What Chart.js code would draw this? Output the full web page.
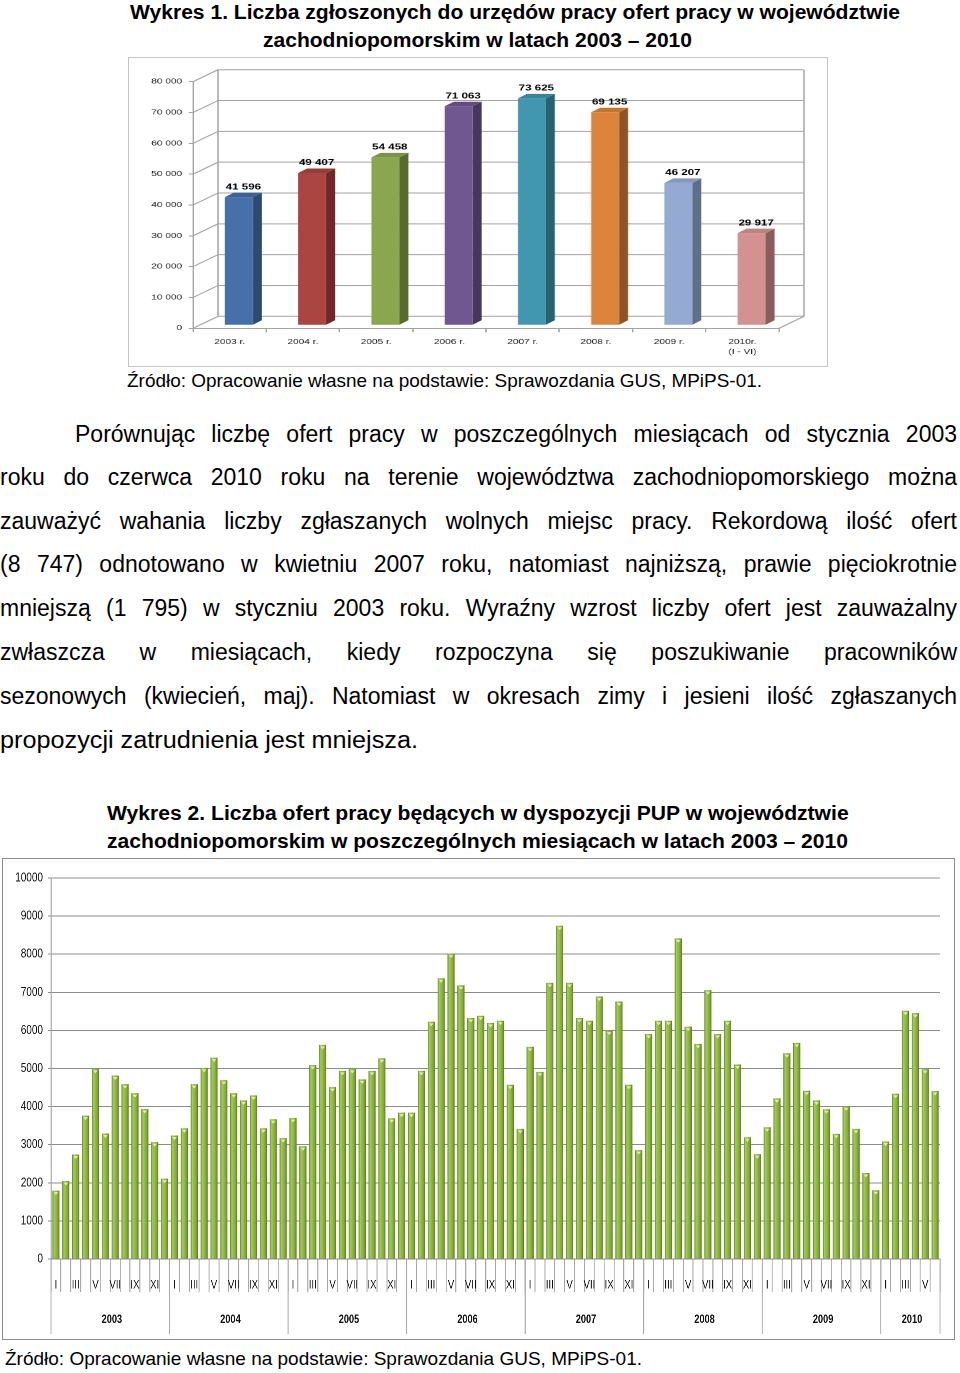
<!DOCTYPE html>
<html><head><meta charset="utf-8">
<script src="https://cdn.jsdelivr.net/npm/chart.js@4/dist/chart.umd.min.js"></script>
<style>
html,body{margin:0;padding:0;background:#fff;}
body{width:960px;height:1373px;position:relative;overflow:hidden;font-family:"Liberation Sans",Arial,sans-serif;color:#000;}
.t{position:absolute;white-space:nowrap;transform-origin:0 0;}
#box1{position:absolute;left:128px;top:57px;width:700px;height:310px;border:1px solid #c4c4c4;box-sizing:border-box;background:#fff;overflow:hidden;}
#w1{position:absolute;left:0;top:0;width:483px;height:308px;transform-origin:0 0;transform:scaleX(1.4451);}
#box2{position:absolute;left:2px;top:858px;width:953px;height:482px;border:1px solid #8c8c8c;box-sizing:border-box;background:#fff;overflow:hidden;}
#w2{position:absolute;left:0;top:0;width:1189px;height:480px;transform-origin:0 0;transform:scaleX(0.79983);}
</style></head><body>
<div id="box1"><div id="w1"><canvas id="c1" width="483" height="308"></canvas></div></div>
<div id="box2"><div id="w2"><canvas id="c2" width="1189" height="480"></canvas></div></div>
<script>
// ---------- DATA ----------
const years1 = ['2003 r.','2004 r.','2005 r.','2006 r.','2007 r.','2008 r.','2009 r.',['2010r.','(I - VI)']];
const totals1 = [41596, 49407, 54458, 71063, 73625, 69135, 46207, 29917];

const monthNames = ['I','II','III','IV','V','VI','VII','VIII','IX','X','XI','XII'];
const yearLabels2 = ['2003','2004','2005','2006','2007','2008','2009','2010'];
const m2003 = [1795,2047,2744,3763,4991,3293,4817,4591,4355,3937,3066,2108];
const m2004 = [3240,3432,4591,5017,5287,4695,4355,4164,4294,3432,3667,3171];
const m2005 = [3702,2960,5090,5620,4512,4939,4991,4713,4939,5270,3693,3841];
const m2006 = [3841,4939,6228,7369,8014,7186,6324,6385,6193,6254,4573,3415];
const m2007 = [5566,4913,7247,8747,7247,6324,6254,6890,5993,6760,4573,2857];
const m2008 = [5906,6254,6254,8415,6098,5645,7056,5906,6254,5105,3197,2753];
const m2009 = [3458,4216,5401,5671,4416,4164,3929,3284,4007,3415,2256,1803];
const m2010 = [3084,4338,6516,6455,4983,4408];

// ---------- STYLES ----------
const front1 = ['#4570a8','#aa4542','#8aa64e','#71578f','#4097af','#dc843c','#94aad2','#d39291'];
const side1  = ['#2c4a70','#6c2927','#576b30','#48375c','#286272','#8e5424','#5f6e8b','#8a5c5b'];
const top1   = ['#3b6296','#973a38','#7a9443','#624b7e','#368599','#c6752f','#8598c0','#bf8281'];

Chart.defaults.font.family = '"Liberation Sans", Arial, sans-serif';
Chart.defaults.color = '#1a1a1a';

function fmtSpace(n){ return String(n).replace(/\B(?=(\d{3})+(?!\d))/g,' '); }
function seg(ctx,x1,y1,x2,y2){ ctx.beginPath(); ctx.moveTo(x1,y1); ctx.lineTo(x2,y2); ctx.stroke(); }

// ---------- CHART 1 (3D look) ----------
const DX=17.3, DY=-12, BX=6.4, BY=-3, SX=6.2, SY=-4.5;
const frame3d = {
  id:'frame3d',
  beforeDatasetsDraw(chart){
    const {ctx, chartArea:a, scales:{y}} = chart;
    ctx.save();
    ctx.strokeStyle='#a3a3a3'; ctx.lineWidth=1;
    seg(ctx,a.left+DX,a.top+DY,a.left+DX,a.bottom+DY);
    seg(ctx,a.right+DX,a.top+DY,a.right+DX,a.bottom+DY);
    y.ticks.forEach(t=>{
      const py=y.getPixelForValue(t.value);
      seg(ctx,a.left,py,a.left+DX,py+DY);
      seg(ctx,a.left+DX,py+DY,a.right+DX,py+DY);
    });
    seg(ctx,a.right,a.bottom,a.right+DX,a.bottom+DY);
    ctx.restore();
    ctx.save();
    ctx.translate(BX,BY);
  },
  afterDatasetsDraw(chart){
    const ctx=chart.ctx;
    const meta=chart.getDatasetMeta(0);
    meta.data.forEach((b,i)=>{
      const l=b.x-b.width/2, r=b.x+b.width/2, t=b.y, base=b.base;
      ctx.fillStyle=side1[i];
      ctx.beginPath(); ctx.moveTo(r,t); ctx.lineTo(r+SX,t+SY); ctx.lineTo(r+SX,base+SY); ctx.lineTo(r,base); ctx.closePath(); ctx.fill();
      ctx.fillStyle=top1[i];
      ctx.beginPath(); ctx.moveTo(l,t); ctx.lineTo(l+SX,t+SY); ctx.lineTo(r+SX,t+SY); ctx.lineTo(r,t); ctx.closePath(); ctx.fill();
    });
    ctx.restore();
    ctx.save();
    ctx.fillStyle='#000'; ctx.font='bold 8px "Liberation Sans", Arial, sans-serif';
    ctx.textAlign='center'; ctx.textBaseline='bottom';
    meta.data.forEach((b,i)=>{
      ctx.fillText(fmtSpace(totals1[i]), b.x+BX+SX/2, b.y+BY+SY-1.5);
    });
    ctx.restore();
  }
};

new Chart(document.getElementById('c1'),{
  type:'bar',
  data:{labels:years1, datasets:[{data:totals1, backgroundColor:front1, borderWidth:0, barPercentage:0.382, categoryPercentage:1}]},
  options:{
    responsive:false, animation:false, devicePixelRatio:2,
    layout:{padding:{left:0,right:33.2,top:23.7,bottom:5.7}},
    plugins:{legend:{display:false}, tooltip:{enabled:false}},
    scales:{
      x:{grid:{display:true, drawOnChartArea:false, tickLength:4, color:'#a3a3a3', offset:true},
         border:{display:true, color:'#a3a3a3'},
         ticks:{font:{size:7, lineHeight:1.4}, padding:5, maxRotation:0, autoSkip:false, color:'#222'},
         afterFit:s=>{s.height=32;}},
      y:{min:0, max:80000,
         grid:{drawOnChartArea:false, tickLength:3, color:'#a3a3a3'},
         border:{display:true, color:'#a3a3a3'},
         ticks:{stepSize:10000, font:{size:7}, padding:4.5, color:'#222', callback:v=>fmtSpace(v)},
         afterFit:s=>{s.width=44.3;}}
    }
  },
  plugins:[frame3d]
});

// ---------- CHART 2 ----------
const months2 = [].concat(m2003,m2004,m2005,m2006,m2007,m2008,m2009,m2010);
const yearData2 = [m2003,m2004,m2005,m2006,m2007,m2008,m2009,m2010];
const monthLabels2 = months2.map((v,i)=>monthNames[i%12]);
const yearStart2 = []; const yearLabelIdx2 = {};
{ let acc=0; yearData2.forEach((a,k)=>{ yearStart2.push(acc); yearLabelIdx2[acc+Math.ceil(a.length/2)] = yearLabels2[k]; acc+=a.length; }); yearStart2.push(acc); }

const BAR2 = 0.72;
const AREA2_W = 1111.5;
function barGrad(c){
  const ch=c.chart;
  if(!ch.chartArea || !ch.scales.x) return '#8cb43c';
  const xs=ch.scales.x;
  const cx=xs.getPixelForValue(c.dataIndex);
  const w=xs.width/months2.length*BAR2;
  const g=ch.ctx.createLinearGradient(cx-w/2,0,cx+w/2,0);
  g.addColorStop(0,'#5e8620'); g.addColorStop(0.22,'#a6ca5c'); g.addColorStop(0.45,'#95bd48');
  g.addColorStop(0.78,'#7ea736'); g.addColorStop(1,'#55791b');
  return g;
}
const tips2 = {
  id:'tips2',
  afterDatasetsDraw(chart){
    const ctx=chart.ctx; ctx.save(); ctx.fillStyle='#dcf0a0';
    chart.getDatasetMeta(0).data.forEach(b=>{
      ctx.beginPath(); ctx.moveTo(b.x-3,b.y+1.5); ctx.lineTo(b.x+3,b.y+1.5); ctx.lineTo(b.x,b.y+4.5); ctx.closePath(); ctx.fill();
    });
    ctx.restore();
  }
};
const yearSep2 = {
  id:'yearSep2',
  afterDraw(chart){
    const {ctx, chartArea:a, scales:{x, x2}} = chart;
    const half=(x.getPixelForValue(1)-x.getPixelForValue(0))/2;
    ctx.save(); ctx.strokeStyle='#a8a8a8'; ctx.lineWidth=1.25;
    yearStart2.forEach(i=>{ const px=x.getPixelForValue(i)-half; seg(ctx,px,a.bottom,px,x2.bottom); });
    ctx.restore();
  }
};

new Chart(document.getElementById('c2'),{
  type:'bar',
  data:{labels:monthLabels2, datasets:[{data:months2, backgroundColor:barGrad, borderWidth:0, barPercentage:BAR2, categoryPercentage:1}]},
  options:{
    responsive:false, animation:false, devicePixelRatio:2,
    layout:{padding:{left:0,right:17.5,top:19,bottom:5}},
    plugins:{legend:{display:false}, tooltip:{enabled:false}},
    scales:{
      x:{weight:0,
         grid:{display:true, drawOnChartArea:false, tickLength:33, color:'#a8a8a8', lineWidth:1.25, offset:true},
         border:{display:true, color:'#8a8a8a'},
         ticks:{autoSkip:false, maxRotation:0, minRotation:0, padding:-14, font:{size:12}, color:'#111',
                callback:function(v,i){ return i%2===0 ? monthLabels2[i] : ''; }},
         afterFit:s=>{s.height=33;}},
      x2:{type:'category', position:'bottom', weight:1, offset:true,
         grid:{display:false, drawTicks:false, offset:true}, border:{display:false},
         ticks:{autoSkip:false, maxRotation:0, minRotation:0, padding:21, labelOffset:-AREA2_W/90/2+2,
                font:{size:11.5, weight:'bold'}, color:'#111',
                callback:(v,i)=> yearLabelIdx2[i] || ''},
         afterFit:s=>{s.height=42;}},
      y:{min:0, max:10000,
         grid:{color:'#8c8c8c', tickLength:4, lineWidth:1},
         border:{display:true, color:'#8c8c8c', width:1.25},
         ticks:{stepSize:1000, font:{size:12.5}, padding:6, color:'#111', callback:v=>String(v)},
         afterFit:s=>{s.width=60;}}
    }
  },
  plugins:[tips2, yearSep2]
});

// ---------- HTML TEXT ----------
const mc=document.createElement('canvas').getContext('2d');
function addText(txt,x,base,size,bold,width,mode){
  const d=document.createElement('div'); d.className='t'; d.textContent=txt;
  const font=(bold?'bold ':'')+size+'px "Liberation Sans", Arial, sans-serif';
  d.style.font=font; d.style.lineHeight='1';
  d.style.left=x+'px'; d.style.top=(base-0.8465*size)+'px';
  mc.font=font; const w=mc.measureText(txt).width;
  if(mode==='justify' && w<width){
    const gaps=(txt.match(/ /g)||[]).length;
    if(gaps) d.style.wordSpacing=((width-w)/gaps)+'px';
  } else if(width){
    d.style.transform='scaleX('+(width/w)+')';
  }
  document.body.appendChild(d);
}
addText('Wykres 1. Liczba zgłoszonych do urzędów pracy ofert pracy w województwie',130,19,20,true,770,'fit');
addText('zachodniopomorskim w latach 2003 – 2010',263,47,20,true,429,'fit');
addText('Źródło: Opracowanie własne na podstawie: Sprawozdania GUS, MPiPS-01.',127,387,19,false,635,'fit');
const para = [
 ['Porównując liczbę ofert pracy w poszczególnych miesiącach od stycznia 2003',75,442,882,'justify'],
 ['roku do czerwca 2010 roku na terenie województwa zachodniopomorskiego można',0,485,957,'justify'],
 ['zauważyć wahania liczby zgłaszanych wolnych miejsc pracy. Rekordową ilość ofert',0,529,957,'justify'],
 ['(8 747) odnotowano w kwietniu 2007 roku, natomiast najniższą, prawie pięciokrotnie',0,572,957,'justify'],
 ['mniejszą (1 795) w styczniu 2003 roku. Wyraźny wzrost liczby ofert jest zauważalny',0,616,957,'justify'],
 ['zwłaszcza w miesiącach, kiedy rozpoczyna się poszukiwanie pracowników',0,660,957,'justify'],
 ['sezonowych (kwiecień, maj). Natomiast w okresach zimy i jesieni ilość zgłaszanych',0,704,957,'justify'],
 ['propozycji zatrudnienia jest mniejsza.',0,748,418,'fit']
];
para.forEach(p=>addText(p[0],p[1],p[2],23,false,p[3],p[4]));
addText('Wykres 2. Liczba ofert pracy będących w dyspozycji PUP w województwie',107,820,20,true,742,'fit');
addText('zachodniopomorskim w poszczególnych miesiącach w latach 2003 – 2010',107,848,20,true,741,'fit');
addText('Źródło: Opracowanie własne na podstawie: Sprawozdania GUS, MPiPS-01.',5,1365,19,false,637,'fit');
</script>
</body></html>
